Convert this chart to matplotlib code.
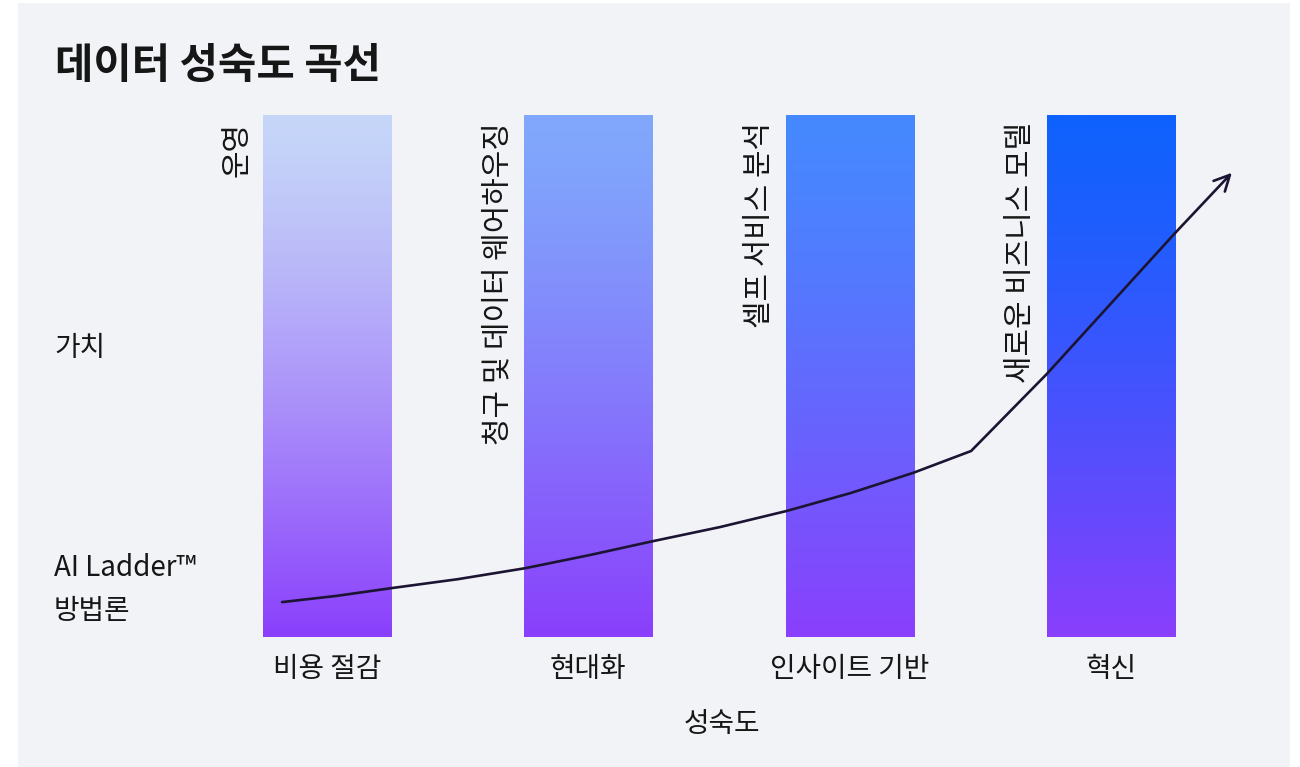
import numpy as np
import matplotlib.pyplot as plt
from matplotlib.patches import Rectangle
from matplotlib.colors import to_rgb

plt.rcParams['font.family'] = ['Noto Sans CJK KR', 'DejaVu Sans']

# stages along the maturity axis
stages = ['비용 절감', '현대화', '인사이트 기반', '혁신']
stage_notes = ['운영', '청구 및 데이터 웨어하우징', '셀프 서비스 분석', '새로운 비즈니스 모델']
bar_values = [1.0, 1.0, 1.0, 1.0]
top_colors = ['#c6d6f8', '#80a8fb', '#4589ff', '#0f62fe']
bottom_color = '#8a3ffc'

# value curve (x = stage index, y = relative value)
curve_x = [-0.172, 0.038, 0.249, 0.501, 0.758, 1.003, 1.248, 1.504, 1.760,
           2.002, 2.243, 2.465, 2.755, 3.245, 3.463]
curve_y = [0.067, 0.079, 0.094, 0.111, 0.132, 0.157, 0.184, 0.211, 0.242,
           0.276, 0.315, 0.357, 0.505, 0.775, 0.891]

W, H = 1300, 767
fig = plt.figure(figsize=(W / 100, H / 100), dpi=100)
fig.patch.set_facecolor('white')
fig.patches.append(Rectangle((18 / W, 0), (1290 - 18) / W, (767 - 3) / H,
                             transform=fig.transFigure, facecolor='#f2f3f7',
                             edgecolor='none', zorder=-5))

ax = fig.add_axes([0, 0, 1, 1])
ax.set_zorder(1)
ax.set_facecolor('none')
ax.patch.set_alpha(0)
ax.set_xlim(-1.2514, 3.7237)
ax.set_ylim(-0.2495, 1.2226)
ax.axis('off')

bw = 0.49
bot = np.array(to_rgb(bottom_color))
t = np.linspace(0, 1, 256)[:, None] ** 1.3
for i, (v, c) in enumerate(zip(bar_values, top_colors)):
    top = np.array(to_rgb(c))
    grad = (top * (1 - t) + bot * t)[:, None, :]
    ax.imshow(grad, extent=(i - bw / 2, i + bw / 2, 0, v), origin='upper',
              aspect='auto', interpolation='bilinear', zorder=1)
    ax.text(i - bw / 2 - 0.1, v - 0.0115, stage_notes[i], rotation=90,
            ha='center', va='top', fontsize=21.5, color='#161616', zorder=3)
    ax.text(i, -0.0614, stages[i], ha='center', va='center',
            fontsize=20, color='#161616')

ax.plot(curve_x[:-1], curve_y[:-1], color='#1c1433', lw=1.9, zorder=4,
        solid_capstyle='round', solid_joinstyle='round')
ax.annotate('', xy=(curve_x[-1], curve_y[-1]), xytext=(curve_x[-2], curve_y[-2]),
            arrowprops=dict(arrowstyle='->', color='#1c1433', lw=1.9,
                            mutation_scale=28, shrinkA=0, shrinkB=0),
            zorder=4)

fig.text(55 / W, 1 - 66 / H, '데이터 성숙도 곡선', fontsize=30, fontweight='bold',
         color='#161616', ha='left', va='center')
fig.text(54 / W, 1 - 348 / H, '가치', fontsize=20,
         color='#161616', ha='left', va='center')
fig.text(54 / W, 1 - 568 / H, 'AI Ladder™', fontsize=20,
         color='#161616', ha='left', va='center')
fig.text(54 / W, 1 - 611 / H, '방법론', fontsize=20,
         color='#161616', ha='left', va='center')
fig.text(722 / W, 1 - 724 / H, '성숙도', fontsize=20,
         color='#161616', ha='center', va='center')

fig.savefig('out.png', dpi=100)
